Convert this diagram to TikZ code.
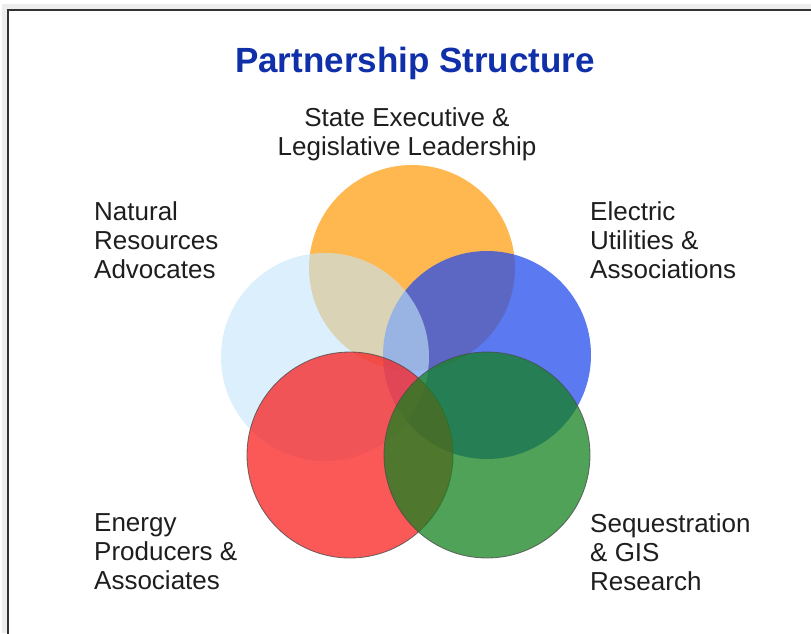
\documentclass[tikz,border=0pt]{standalone}
\usepackage{fontspec}
\setmainfont{Liberation Sans}
\definecolor{titleblue}{RGB}{16,48,170}
\definecolor{textgray}{RGB}{30,30,30}
\definecolor{cOrange}{RGB}{255,160,20}
\definecolor{cSky}{RGB}{195,230,250}
\definecolor{cBlue}{RGB}{35,75,235}
\definecolor{cRed}{RGB}{250,30,30}
\definecolor{cGreen}{RGB}{20,130,30}
\tikzset{
  grouptext/.style={text=textgray, align=left, anchor=west, inner sep=0pt,
    font=\fontsize{26}{29}\selectfont},
  ring/.style={fill opacity=0.74, draw opacity=0.8}
}

\begin{document}
\begin{tikzpicture}[x=1pt, y=-1pt]
			%%%%% FRAME %%%%%
			\useasboundingbox (0, 0) rectangle (811, 633);
			\fill[black!7] (2, 4) rectangle (811, 633);
			\draw[line width=2pt, color=black!80, fill=white] (8, 10) rectangle (830, 650);
			
			%%%%% TITLE %%%%%
			\node[text=titleblue, font=\fontsize{35}{40}\selectfont\bfseries] (title) at (415, 63) {Partnership Structure};
			
			%%%%% CIRCLES %%%%%
			\fill[ring, color=cOrange] (412, 268) circle (103);
			\fill[ring, color=cBlue] (487, 355) circle (104);
			\fill[ring, color=cSky, fill opacity=0.6] (325, 357) circle (104);
			\filldraw[ring, fill=cRed, draw=black!70, line width=0.8pt] (350, 455) circle (103);
			\filldraw[ring, fill=cGreen, draw=black!70, line width=0.8pt] (487, 455) circle (103);
			
			%%%%% LABELS %%%%%
			\node[grouptext, align=center, anchor=center] (state) at (407, 134) {State Executive \&\\Legislative Leadership};
			\node[grouptext] (natural) at (94, 240) {Natural\\Resources\\Advocates};
			\node[grouptext] (electric) at (590, 240) {Electric\\Utilities \&\\Associations};
			\node[grouptext] (energy) at (94, 552) {Energy\\Producers \&\\Associates};
			\node[grouptext] (seq) at (590, 552) {Sequestration\\\& GIS\\Research};
			
\end{tikzpicture}
\end{document}
